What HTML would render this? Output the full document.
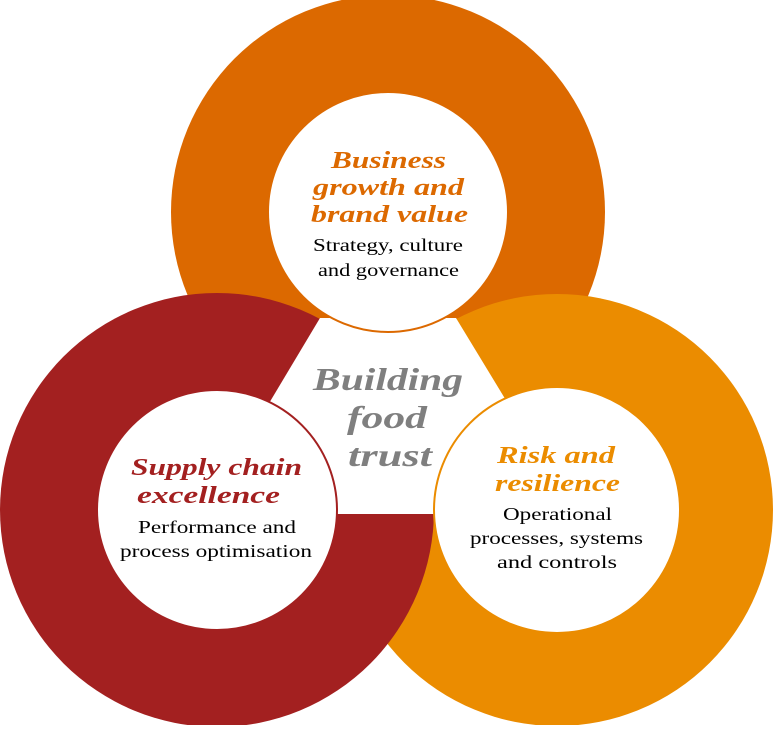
<!DOCTYPE html>
<html><head><style>
body{margin:0;background:#fff}
svg text{font-family:"Liberation Serif",serif}
.h{font-weight:bold;font-style:italic;font-size:24px}
.b{font-size:17.5px;fill:#000}
.c{font-weight:bold;font-style:italic;font-size:32px;fill:#7f7f7f}
</style></head><body>
<svg width="774" height="725" viewBox="0 0 774 725">
<circle cx="388" cy="212" r="217" fill="#DC6900"/>
<circle cx="557" cy="510" r="216" fill="#EB8C00"/>
<circle cx="217" cy="510" r="217" fill="#A32020"/>
<polygon points="320,318 456,318 518,420 434,514 338,514 259,420" fill="#fff"/>
<circle cx="388" cy="212" r="120" fill="#fff" stroke="#DC6900" stroke-width="2"/>
<circle cx="557" cy="510" r="123" fill="#fff" stroke="#EB8C00" stroke-width="2"/>
<circle cx="217" cy="510" r="120" fill="#fff" stroke="#A32020" stroke-width="2"/>
<g lengthAdjust="spacingAndGlyphs">
<text class="h" fill="#DC6900" x="331" y="168" textLength="115" lengthAdjust="spacingAndGlyphs">Business</text>
<text class="h" fill="#DC6900" x="313" y="195" textLength="151" lengthAdjust="spacingAndGlyphs">growth and</text>
<text class="h" fill="#DC6900" x="311" y="222" textLength="157" lengthAdjust="spacingAndGlyphs">brand value</text>
<text class="b" x="313" y="251" textLength="150" lengthAdjust="spacingAndGlyphs">Strategy, culture</text>
<text class="b" x="318" y="276" textLength="141" lengthAdjust="spacingAndGlyphs">and governance</text>
<text class="h" fill="#EB8C00" x="497" y="463" textLength="118" lengthAdjust="spacingAndGlyphs">Risk and</text>
<text class="h" fill="#EB8C00" x="495" y="491" textLength="125" lengthAdjust="spacingAndGlyphs">resilience</text>
<text class="b" x="503" y="520" textLength="109" lengthAdjust="spacingAndGlyphs">Operational</text>
<text class="b" x="470" y="544" textLength="173" lengthAdjust="spacingAndGlyphs">processes, systems</text>
<text class="b" x="497" y="568" textLength="120" lengthAdjust="spacingAndGlyphs">and controls</text>
<text class="h" fill="#A32020" x="131" y="475" textLength="171" lengthAdjust="spacingAndGlyphs">Supply chain</text>
<text class="h" fill="#A32020" x="137" y="503" textLength="143" lengthAdjust="spacingAndGlyphs">excellence</text>
<text class="b" x="138" y="533" textLength="158" lengthAdjust="spacingAndGlyphs">Performance and</text>
<text class="b" x="120" y="557" textLength="192" lengthAdjust="spacingAndGlyphs">process optimisation</text>
<text class="c" x="313" y="390" textLength="150" lengthAdjust="spacingAndGlyphs">Building</text>
<text class="c" x="347" y="428" textLength="80" lengthAdjust="spacingAndGlyphs">food</text>
<text class="c" x="348" y="466" textLength="84" lengthAdjust="spacingAndGlyphs">trust</text>
</g>
</svg>
</body></html>
